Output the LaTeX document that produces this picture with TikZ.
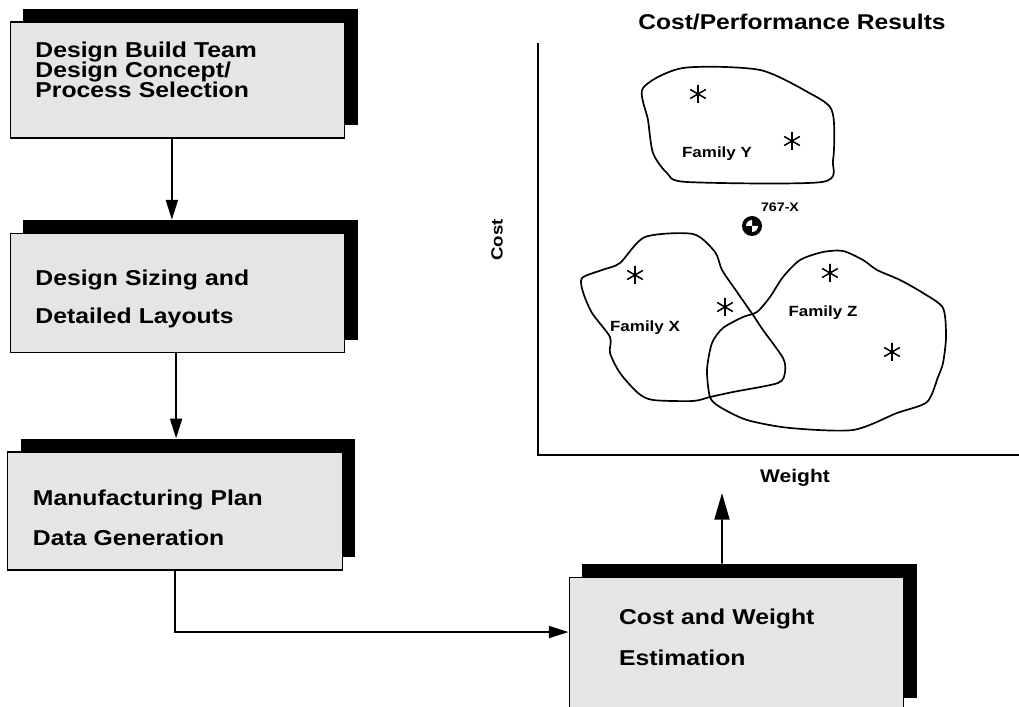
\documentclass[tikz,border=0pt]{standalone}
\usepackage{fontspec}
\newfontfamily\labelfont{Liberation Sans}[FakeStretch=1.15]
\usetikzlibrary{arrows.meta,shadows}

\begin{document}
\begin{tikzpicture}[x=0.025cm, y=-0.025cm,
        flowbox/.style={draw, line width=0.9pt, fill=black!10, align=left,
            inner xsep=18pt, text width=202pt, minimum width=238pt,
            general shadow={fill=black, shadow xshift=9.2pt, shadow yshift=9.2pt},
            font={\labelfont\bfseries\fontsize{15.3pt}{#1}\selectfont}},
        flow/.style={line width=1.3pt, -{Triangle[length=14pt,width=8.5pt]}},
        blob/.style={line width=1.2pt, smooth cycle, tension=0.45},
        starline/.style={line width=1.1pt}]
        \useasboundingbox (0,0) rectangle (1019,707);

        % Process boxes
        \node[flowbox=14.5pt, minimum height=82.5pt] (bteam) at (177.5,80)
            {Design Build Team\\Design Concept/\\Process Selection\\[0pt]\mbox{}};
        \node[flowbox=27pt, minimum height=85pt] (bsize) at (177.5,293)
            {Design Sizing and\\Detailed Layouts\\[-32pt]\mbox{}};
        \node[flowbox=28.5pt, minimum height=84pt] (bplan) at (175,511)
            {Manufacturing Plan\\Data Generation\\[-38pt]\mbox{}};
        \node[flowbox=29pt, minimum height=95pt, text width=167pt, inner xsep=35.5pt] (bcost) at (736.5,644)
            {Cost and Weight\\Estimation\\[-19pt]\mbox{}};

        % Flow arrows
        \draw[flow] ([xshift=-4pt]bteam.south) -- ([xshift=-4pt,yshift=9.2pt]bsize.north);
        \draw[flow] ([xshift=-1pt]bsize.south) -- ([xshift=-1pt,yshift=9.2pt]bplan.north -| bsize.south);
        \draw[flow] (bplan.south) |- ([yshift=8.5pt]bcost.west);
        \coordinate (tip) at (722,493);
        \draw[line width=1.3pt, -{Triangle[length=19pt,width=10.7pt]}]
            ([xshift=-10.3pt,yshift=9.2pt]bcost.north) -- (tip);

        % Axes and titles
        \coordinate (o) at (538,455);
        \draw[line width=1.3pt] (538,43) -- (o) -- (1019,455);
        \node[font=\labelfont\bfseries\fontsize{15.2pt}{18pt}\selectfont] (title) at (792,22) {Cost/Performance Results};
        \node[font=\labelfont\bfseries\fontsize{11.5pt}{14pt}\selectfont, rotate=90] (ycost) at (497,240) {Cost};
        \node[font=\labelfont\bfseries\fontsize{13pt}{15pt}\selectfont] (xweight) at (795,478) {Weight};

        % Families
        \draw[blob] plot coordinates {(643,88) (683,68) (760,70) (813,95) (830,107) (834,123)
            (833,160) (822,182) (687,182) (667,173) (653,153) (648,120)};
        \draw[blob] plot coordinates {(582,278) (583,292) (592,313) (610,337) (610,353) (620,373)
            (638,393) (653,400) (693,401) (710,397) (733,392) (778,383) (785,372) (783,358)
            (763,330) (753,315) (737,292) (722,270) (715,252) (693,234) (645,237) (620,263) (602,270)};
        \draw[blob] plot coordinates {(710,397) (707,370) (712,343) (723,328) (743,317) (757,312)
            (770,297) (783,277) (800,260) (823,252) (843,251) (863,260) (877,270) (900,280)
            (923,293) (943,308) (946,337) (943,363) (938,377) (927,402) (897,413) (853,430)
            (790,428) (747,420) (720,407)};
        \node[font=\labelfont\bfseries\fontsize{10.5pt}{12pt}\selectfont] (famy) at (717,154) {Family Y};
        \node[font=\labelfont\bfseries\fontsize{10.5pt}{12pt}\selectfont] (famx) at (645,328) {Family X};
        \node[font=\labelfont\bfseries\fontsize{10.5pt}{12pt}\selectfont] (famz) at (823,313) {Family Z};

        % Data points
        \foreach \p in {(698,94), (792,141), (635,275), (725,307), (830,273), (892,352)}
            \draw[starline] \p +(90:9) -- +(270:9) +(30:9) -- +(210:9) +(150:9) -- +(330:9);

        % 767-X point
        \fill (752,226) circle (10);
        \fill[white] (752,226) -- +(180:6) arc[start angle=180, end angle=270, radius=6] -- cycle;
        \fill[white] (752,226) -- +(0:6) arc[start angle=0, end angle=90, radius=6] -- cycle;
        \node[font=\labelfont\bfseries\fontsize{8.8pt}{10pt}\selectfont] (pt767) at (780,207) {767-X};
    \end{tikzpicture}
\end{document}
